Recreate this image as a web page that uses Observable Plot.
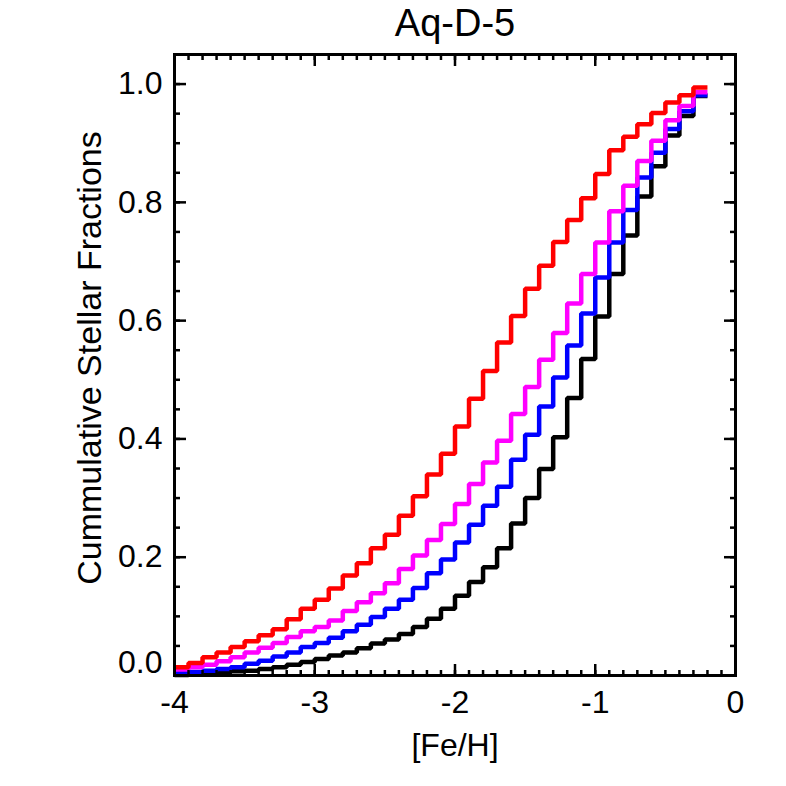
<!DOCTYPE html>
<html>
<head>
<meta charset="utf-8">
<script src="https://cdn.jsdelivr.net/npm/d3@7"></script>
<script src="https://cdn.jsdelivr.net/npm/@observablehq/plot@0.6"></script>
<style>
  body { margin: 0; background: #fff; }
  #chart svg { display: block; }
</style>
</head>
<body>
<div id="chart"></div>
<script>
const title = "Aq-D-5";
const xLabel = "[Fe/H]";
const yLabel = "Cummulative Stellar Fractions";

// left edges of the [Fe/H] bins (width 0.1); the last bin ends at binEnd
const binLeft = [-4.0, -3.9, -3.8, -3.7, -3.6, -3.5, -3.4, -3.3, -3.2, -3.1,
                 -3.0, -2.9, -2.8, -2.7, -2.6, -2.5, -2.4, -2.3, -2.2, -2.1,
                 -2.0, -1.9, -1.8, -1.7, -1.6, -1.5, -1.4, -1.3, -1.2, -1.1,
                 -1.0, -0.9, -0.8, -0.7, -0.6, -0.5, -0.4, -0.3];
const binEnd = -0.2;

const seriesNames = ["black", "blue", "magenta", "red"];
const seriesColors = ["#000000", "#0000ff", "#ff00ff", "#ff0000"];

const black = [0.001, 0.002, 0.003, 0.005, 0.007, 0.008, 0.011, 0.014, 0.018, 0.023,
               0.028, 0.034, 0.039, 0.046, 0.054, 0.061, 0.070, 0.082, 0.096, 0.113,
               0.135, 0.158, 0.183, 0.215, 0.257, 0.300, 0.349, 0.403, 0.469, 0.535,
               0.607, 0.679, 0.744, 0.810, 0.861, 0.913, 0.946, 0.980];
const blue = [0.004, 0.006, 0.008, 0.011, 0.014, 0.020, 0.025, 0.032, 0.039, 0.048,
              0.055, 0.064, 0.075, 0.086, 0.099, 0.113, 0.128, 0.148, 0.173, 0.196,
              0.225, 0.255, 0.287, 0.319, 0.365, 0.407, 0.455, 0.504, 0.558, 0.612,
              0.673, 0.732, 0.787, 0.842, 0.884, 0.924, 0.954, 0.981];
const magenta = [0.010, 0.014, 0.018, 0.024, 0.031, 0.039, 0.047, 0.055, 0.065, 0.075,
                 0.082, 0.093, 0.109, 0.124, 0.139, 0.156, 0.180, 0.203, 0.229, 0.256,
                 0.290, 0.324, 0.360, 0.397, 0.442, 0.488, 0.534, 0.579, 0.629, 0.679,
                 0.732, 0.785, 0.828, 0.870, 0.904, 0.939, 0.963, 0.986];
const red = [0.014, 0.021, 0.031, 0.039, 0.048, 0.058, 0.068, 0.078, 0.095, 0.113,
             0.128, 0.147, 0.169, 0.190, 0.215, 0.238, 0.270, 0.303, 0.340, 0.375,
             0.421, 0.468, 0.515, 0.563, 0.608, 0.654, 0.693, 0.733, 0.770, 0.807,
             0.848, 0.888, 0.911, 0.932, 0.951, 0.969, 0.981, 0.994];

const xMajorTicks = [-4, -3, -2, -1, 0];
const yMajorTicks = [0.0, 0.2, 0.4, 0.6, 0.8, 1.0];

const seriesValues = [black, blue, magenta, red];
const edges = [...binLeft, binEnd];
const rows = seriesNames.flatMap((name, s) =>
  edges.map((x, i) => ({
    x,
    y: seriesValues[s][Math.min(i, seriesValues[s].length - 1)],
    name
  }))
);

const font = "'Liberation Sans', Arial, Helvetica, sans-serif";
const tickW = 2.5;
const fmtY = d3.format(".1f");

const chart = Plot.plot({
  width: 786,
  height: 786,
  marginLeft: 174,
  marginRight: 51,
  marginTop: 54,
  marginBottom: 111,
  style: { fontFamily: font, background: "#fff", color: "#000" },
  x: { domain: [-4, 0] },
  y: { domain: [0, 1.05] },
  color: { domain: seriesNames, range: seriesColors },
  marks: [
    Plot.line(rows, {
      x: "x", y: "y", z: "name", stroke: "name",
      curve: "step-after", strokeWidth: 4.5,
      strokeLinejoin: "miter", strokeLinecap: "butt"
    }),
    // minor ticks (inward)
    Plot.axisX({anchor: "bottom", ticks: 40, tickSize: -5, tickFormat: () => "", label: null, strokeWidth: tickW}),
    Plot.axisX({anchor: "top", ticks: 40, tickSize: -5, tickFormat: () => "", label: null, strokeWidth: tickW}),
    Plot.axisY({anchor: "left", ticks: 21, tickSize: -6, tickFormat: () => "", label: null, strokeWidth: tickW}),
    Plot.axisY({anchor: "right", ticks: 21, tickSize: -6, tickFormat: () => "", label: null, strokeWidth: tickW}),
    // major ticks (inward)
    Plot.axisX({anchor: "bottom", ticks: xMajorTicks, tickSize: -11, tickFormat: () => "", label: null, strokeWidth: tickW}),
    Plot.axisX({anchor: "top", ticks: xMajorTicks, tickSize: -11, tickFormat: () => "", label: null, strokeWidth: tickW}),
    Plot.axisY({anchor: "left", ticks: yMajorTicks, tickSize: -12, tickFormat: () => "", label: null, strokeWidth: tickW}),
    Plot.axisY({anchor: "right", ticks: yMajorTicks, tickSize: -12, tickFormat: () => "", label: null, strokeWidth: tickW}),
    // tick labels
    Plot.axisX({anchor: "bottom", ticks: xMajorTicks, tickSize: 0, tickPadding: 15,
                tickFormat: d => String(d), fontSize: 32, label: null}),
    Plot.axisY({anchor: "left", ticks: yMajorTicks.slice(1), tickSize: 0, tickPadding: 12,
                tickFormat: fmtY, fontSize: 32, label: null}),
    Plot.axisY({anchor: "left", ticks: yMajorTicks.slice(0, 1), tickSize: 0, tickPadding: 12,
                tickFormat: fmtY, fontSize: 32, label: null, dy: -13}),
    Plot.frame({strokeWidth: 3}),
    // titles
    Plot.text([title], {frameAnchor: "top", text: d => d, dy: -31, fontSize: 38, lineAnchor: "middle"}),
    Plot.text([xLabel], {frameAnchor: "bottom", text: d => d, dy: 70, fontSize: 32, lineAnchor: "middle"}),
    Plot.text([yLabel], {frameAnchor: "left", text: d => d, dx: -84, dy: -7, rotate: -90,
                         textAnchor: "middle", fontSize: 34, lineAnchor: "middle"})
  ]
});

document.getElementById("chart").appendChild(chart);
</script>
</body>
</html>
